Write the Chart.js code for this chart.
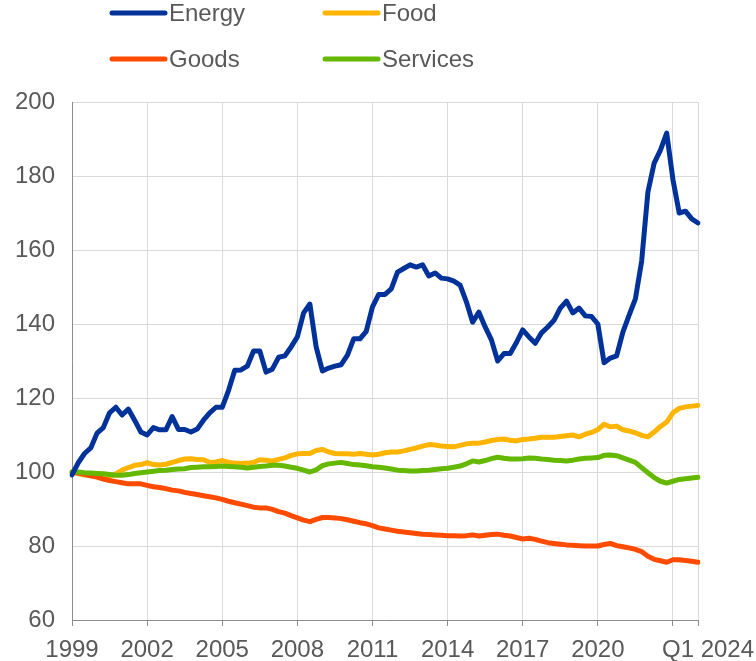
<!doctype html>
<html>
<head>
<title>HICP components</title>
<script src="https://cdn.jsdelivr.net/npm/chart.js@4.4.1/dist/chart.umd.min.js"></script>
<style>
  body { margin: 0; background: #fff; }
  #wrap { width: 756px; height: 661px; }
</style>
</head>
<body>
<div id="wrap"><canvas id="chart"></canvas></div>
<script>
// quarterly index, 1999 Q1 = 100
var quarters = [];
for (var yr = 1999; yr <= 2024; yr++) {
  for (var q = 1; q <= 4; q++) {
    if (yr === 2024 && q > 1) break;
    quarters.push('Q' + q + ' ' + yr);
  }
}
var tickYears = ['1999', '2002', '2005', '2008', '2011', '2014', '2017', '2020', '2023'];
var lastTick = 'Q1 2024';

var energy = [99.2, 102.5, 105, 106.5, 110.5, 112, 116, 117.5, 115.4, 117, 114, 110.8, 110, 112, 111.4, 111.4,
  115, 111.5, 111.5, 110.8, 111.6, 114, 116, 117.5, 117.5, 122, 127.5, 127.6, 128.6, 132.7, 132.7, 127,
  127.8, 131, 131.4, 133.8, 136.5, 143, 145.4, 133.8, 127.3, 128.1, 128.6, 129, 131.6, 136, 136, 138,
  144.6, 148, 148, 149.5, 154, 155, 156, 155.4, 156, 153, 153.8, 152.4, 152.2, 151.6, 150.5, 146,
  140.5, 143.2, 139.2, 135.7, 130, 132, 132, 135, 138.4, 136.5, 134.8, 137.6, 139.2, 141, 144.3, 146.2,
  143, 144.3, 142.2, 142, 140, 129.5, 130.8, 131.4, 137.8, 142.4, 146.8, 157, 175.7, 183.5, 187, 191.6,
  179, 170, 170.5, 168.4, 167.3];
var food = [100, 99.6, 99.2, 99, 98.8, 98.6, 98.8, 99.5, 100.5, 101.2, 101.8, 102, 102.5, 102, 101.9, 102.1,
  102.6, 103.1, 103.5, 103.6, 103.4, 103.3, 102.6, 102.7, 103.1, 102.6, 102.4, 102.3, 102.4, 102.6, 103.3, 103.2,
  102.9, 103.4, 103.8, 104.5, 104.9, 105, 105, 105.8, 106.1, 105.4, 105, 104.9, 104.9, 104.8, 105, 104.8,
  104.6, 104.8, 105.2, 105.4, 105.4, 105.7, 106.1, 106.5, 107, 107.4, 107.3, 107, 106.9, 106.8, 107.2, 107.6,
  107.8, 107.8, 108.1, 108.5, 108.8, 108.9, 108.6, 108.4, 108.8, 108.9, 109.1, 109.4, 109.4, 109.4, 109.6, 109.8,
  110, 109.5, 110.2, 110.7, 111.5, 112.9, 112.2, 112.4, 111.4, 111.1, 110.6, 109.9, 109.5, 110.8, 112.3, 113.5,
  116, 117.2, 117.6, 117.8, 118];
var goods = [100, 99.7, 99.4, 99, 98.6, 98.1, 97.7, 97.4, 97.1, 96.8, 96.8, 96.8, 96.4, 96, 95.8, 95.5,
  95.1, 94.9, 94.5, 94.2, 93.9, 93.6, 93.3, 93, 92.6, 92.1, 91.7, 91.3, 90.9, 90.5, 90.3, 90.3,
  89.9, 89.3, 88.9, 88.2, 87.6, 87, 86.6, 87.2, 87.7, 87.7, 87.6, 87.4, 87.1, 86.7, 86.3, 86,
  85.5, 84.9, 84.6, 84.3, 84, 83.8, 83.6, 83.4, 83.2, 83.1, 83, 82.9, 82.8, 82.8, 82.7, 82.8,
  83, 82.7, 82.9, 83.1, 83.2, 82.9, 82.7, 82.3, 81.9, 82.1, 81.8, 81.3, 80.9, 80.7, 80.5, 80.3,
  80.2, 80.1, 80, 80, 80, 80.4, 80.7, 80.1, 79.8, 79.5, 79.1, 78.5, 77.2, 76.4, 76, 75.6,
  76.3, 76.3, 76.1, 75.9, 75.6];
var services = [100, 100, 99.8, 99.7, 99.6, 99.5, 99.3, 99.1, 99.1, 99.3, 99.6, 99.8, 100, 100.2, 100.4, 100.5,
  100.7, 100.8, 100.9, 101.2, 101.3, 101.4, 101.4, 101.5, 101.6, 101.5, 101.4, 101.3, 101.1, 101.3, 101.5, 101.6,
  101.8, 101.8, 101.6, 101.3, 101, 100.5, 100, 100.6, 101.7, 102.2, 102.4, 102.6, 102.3, 102, 101.9, 101.7,
  101.4, 101.3, 101.1, 100.8, 100.5, 100.4, 100.3, 100.3, 100.4, 100.5, 100.7, 100.9, 101, 101.3, 101.6, 102.2,
  103, 102.7, 103.1, 103.6, 104, 103.7, 103.5, 103.5, 103.6, 103.8, 103.7, 103.5, 103.4, 103.2, 103.1, 103,
  103.2, 103.5, 103.7, 103.8, 103.9, 104.5, 104.6, 104.4, 103.8, 103.2, 102.6, 101.2, 99.8, 98.5, 97.5, 97,
  97.5, 98, 98.2, 98.4, 98.6];

var FONT = "Arial, 'Liberation Sans', sans-serif";
var TXT = '#595959';

function series(label, data, color, order) {
  return {
    label: label, data: data, borderColor: color, backgroundColor: color,
    borderWidth: 5, pointRadius: 0, tension: 0, order: order,
    borderJoinStyle: 'round', borderCapStyle: 'round'
  };
}

function isGridTick(i) {
  return i % 12 === 0 || i === quarters.length - 1;
}

// two-column legend above the plot
var legendPlugin = {
  id: 'twoColLegend',
  afterDraw: function(chart) {
    var ctx = chart.ctx;
    var cols = [112, 325], rows = [13, 59];
    ctx.save();
    chart.data.datasets.forEach(function(ds, i) {
      var x = cols[i % 2], y = rows[Math.floor(i / 2)];
      ctx.strokeStyle = ds.borderColor;
      ctx.lineWidth = 5;
      ctx.lineCap = 'round';
      ctx.beginPath();
      ctx.moveTo(x, y);
      ctx.lineTo(x + 53, y);
      ctx.stroke();
      ctx.fillStyle = TXT;
      ctx.font = '24px ' + FONT;
      ctx.textBaseline = 'middle';
      ctx.textAlign = 'left';
      ctx.fillText(ds.label, x + 57, y + 1);
    });
    ctx.restore();
  }
};

var ctx = document.getElementById('chart').getContext('2d');
new Chart(ctx, {
  type: 'line',
  data: {
    labels: quarters,
    datasets: [
      series('Energy', energy, '#003299', 0),
      series('Food', food, '#FFB400', 3),
      series('Goods', goods, '#FF4B00', 2),
      series('Services', services, '#65B800', 1)
    ]
  },
  options: {
    responsive: true,
    maintainAspectRatio: false,
    animation: false,
    layout: { padding: { top: 102, right: 58, bottom: 0, left: 0 } },
    plugins: { legend: { display: false }, tooltip: { enabled: false } },
    scales: {
      x: {
        type: 'category',
        offset: false,
        afterFit: function(s) { s.height = 41; s.paddingLeft = 0; s.paddingRight = 0; },
        border: { color: '#8c8c8c', width: 1 },
        grid: {
          drawTicks: true,
          tickLength: 6,
          color: function(c) { return isGridTick(c.index) ? '#d9d9d9' : 'rgba(0,0,0,0)'; },
          tickColor: function(c) { return isGridTick(c.index) ? '#8c8c8c' : 'rgba(0,0,0,0)'; }
        },
        ticks: {
          autoSkip: false,
          maxRotation: 0,
          minRotation: 0,
          padding: 10,
          color: TXT,
          font: { family: FONT, size: 24 },
          callback: function(v, i) {
            if (i === quarters.length - 1) return '   ' + lastTick;
            if (i % 12 === 0) {
              var y = tickYears[i / 12];
              return y === '2023' ? '' : y;
            }
            return '';
          }
        }
      },
      y: {
        min: 60,
        max: 200,
        afterFit: function(s) { s.width = 72; },
        border: { color: '#8c8c8c', width: 1 },
        grid: { color: '#d9d9d9', drawTicks: false },
        ticks: {
          stepSize: 20,
          padding: 17,
          color: TXT,
          font: { family: FONT, size: 24 }
        }
      }
    }
  },
  plugins: [legendPlugin]
});
</script>
</body>
</html>
